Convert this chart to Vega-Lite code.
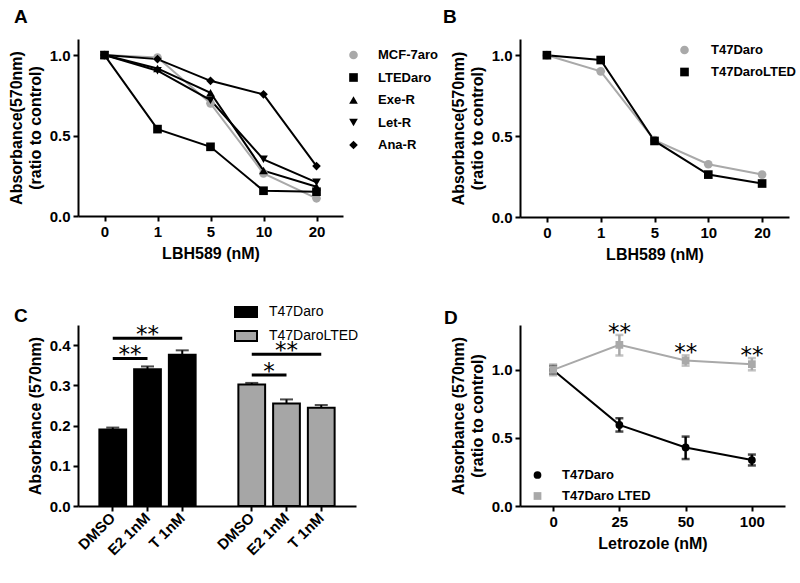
{
  "$schema": "https://vega.github.io/schema/vega-lite/v6.json",
  "padding": {"left": 8, "top": 8, "right": 5, "bottom": 5},
  "background": "white",
  "columns": 2,
  "bounds": "flush",
  "spacing": {"row": 108, "column": 164},
  "resolve": {
    "scale": {"color": "independent", "shape": "independent"},
    "legend": {"color": "independent", "shape": "independent"}
  },
  "config": {
    "font": "Liberation Sans",
    "view": {"stroke": null},
    "axis": {
      "domainColor": "black", "domainWidth": 2, "tickColor": "black", "tickWidth": 2, "tickSize": 5,
      "labelFont": "Liberation Sans", "labelFontSize": 15, "labelFontWeight": "bold", "labelColor": "black", "labelPadding": 3,
      "titleFont": "Liberation Sans", "titleFontSize": 16, "titleFontWeight": "bold", "titleColor": "black",
      "grid": false, "titleLineHeight": 19
    },
    "legend": {"labelFont": "Liberation Sans", "labelFontSize": 13, "labelFontWeight": "bold", "labelColor": "black", "padding": 0, "titlePadding": 0},
    "title": {"font": "Liberation Sans", "fontSize": 19, "fontWeight": "bold", "color": "black", "anchor": "start", "frame": "group"}
  },
  "concat": [
    {
      "width": 265, "height": 177,
      "title": {"text": "A", "dx": -64, "offset": 12},
      "data": {"values": [
        {"conc": "0", "series": "MCF-7aro", "v": 1.0}, {"conc": "1", "series": "MCF-7aro", "v": 0.985}, {"conc": "5", "series": "MCF-7aro", "v": 0.70}, {"conc": "10", "series": "MCF-7aro", "v": 0.265}, {"conc": "20", "series": "MCF-7aro", "v": 0.11},
        {"conc": "0", "series": "LTEDaro", "v": 1.0}, {"conc": "1", "series": "LTEDaro", "v": 0.54}, {"conc": "5", "series": "LTEDaro", "v": 0.43}, {"conc": "10", "series": "LTEDaro", "v": 0.157}, {"conc": "20", "series": "LTEDaro", "v": 0.151},
        {"conc": "0", "series": "Exe-R", "v": 1.0}, {"conc": "1", "series": "Exe-R", "v": 0.917}, {"conc": "5", "series": "Exe-R", "v": 0.766}, {"conc": "10", "series": "Exe-R", "v": 0.282}, {"conc": "20", "series": "Exe-R", "v": 0.182},
        {"conc": "0", "series": "Let-R", "v": 1.0}, {"conc": "1", "series": "Let-R", "v": 0.903}, {"conc": "5", "series": "Let-R", "v": 0.72}, {"conc": "10", "series": "Let-R", "v": 0.352}, {"conc": "20", "series": "Let-R", "v": 0.209},
        {"conc": "0", "series": "Ana-R", "v": 1.0}, {"conc": "1", "series": "Ana-R", "v": 0.975}, {"conc": "5", "series": "Ana-R", "v": 0.84}, {"conc": "10", "series": "Ana-R", "v": 0.756}, {"conc": "20", "series": "Ana-R", "v": 0.31}
      ]},
      "encoding": {
        "x": {"field": "conc", "type": "ordinal", "sort": ["0", "1", "5", "10", "20"], "scale": {"type": "point", "padding": 0.5}, "axis": {"title": "LBH589 (nM)", "labelAngle": 0, "titlePadding": 6}},
        "y": {"field": "v", "type": "quantitative", "scale": {"domain": [0, 1.1]}, "axis": {"values": [0, 0.5, 1], "format": ".1f", "title": ["Absorbance(570nm)", "(ratio to control)"], "titlePadding": 6}}
      },
      "layer": [
        {"mark": {"type": "line", "strokeWidth": 2}, "encoding": {
          "detail": {"field": "series", "type": "nominal"},
          "color": {"condition": {"test": "datum.series == 'MCF-7aro'", "value": "#a9a9a9"}, "value": "#000000"}}},
        {"mark": {"type": "point", "filled": true, "opacity": 1, "size": 75}, "encoding": {
          "color": {"field": "series", "type": "nominal", "scale": {"domain": ["MCF-7aro", "LTEDaro", "Exe-R", "Let-R", "Ana-R"], "range": ["#a9a9a9", "#000000", "#000000", "#000000", "#000000"]},
            "legend": {"title": null, "orient": "none", "legendX": 269, "legendY": 9.5, "symbolSize": 75, "symbolOpacity": 1, "labelOffset": 18, "rowPadding": 7.5}},
          "shape": {"field": "series", "type": "nominal", "scale": {"domain": ["MCF-7aro", "LTEDaro", "Exe-R", "Let-R", "Ana-R"], "range": ["circle", "square", "triangle-up", "triangle-down", "diamond"]},
            "legend": {"title": null, "orient": "none", "legendX": 269, "legendY": 9.5, "symbolSize": 75, "symbolOpacity": 1, "labelOffset": 18, "rowPadding": 7.5}}}}
      ]
    },
    {
      "width": 269, "height": 178,
      "title": {"text": "B", "dx": -77, "offset": 12},
      "data": {"values": [
        {"conc": "0", "series": "T47Daro", "v": 1.0}, {"conc": "1", "series": "T47Daro", "v": 0.90}, {"conc": "5", "series": "T47Daro", "v": 0.475}, {"conc": "10", "series": "T47Daro", "v": 0.326}, {"conc": "20", "series": "T47Daro", "v": 0.262},
        {"conc": "0", "series": "T47DaroLTED", "v": 1.0}, {"conc": "1", "series": "T47DaroLTED", "v": 0.97}, {"conc": "5", "series": "T47DaroLTED", "v": 0.47}, {"conc": "10", "series": "T47DaroLTED", "v": 0.262}, {"conc": "20", "series": "T47DaroLTED", "v": 0.207}
      ]},
      "encoding": {
        "x": {"field": "conc", "type": "ordinal", "sort": ["0", "1", "5", "10", "20"], "scale": {"type": "point", "padding": 0.5}, "axis": {"title": "LBH589 (nM)", "labelAngle": 0, "titlePadding": 6}},
        "y": {"field": "v", "type": "quantitative", "scale": {"domain": [0, 1.1]}, "axis": {"values": [0, 0.5, 1], "format": ".1f", "title": ["Absorbance(570nm)", "(ratio to control)"], "titlePadding": 6}}
      },
      "layer": [
        {"mark": {"type": "line", "strokeWidth": 2}, "encoding": {
          "detail": {"field": "series", "type": "nominal"},
          "color": {"condition": {"test": "datum.series == 'T47Daro'", "value": "#a9a9a9"}, "value": "#000000"}}},
        {"mark": {"type": "point", "filled": true, "opacity": 1, "size": 75}, "encoding": {
          "color": {"field": "series", "type": "nominal", "scale": {"domain": ["T47Daro", "T47DaroLTED"], "range": ["#a9a9a9", "#000000"]},
            "legend": {"title": null, "orient": "none", "legendX": 158, "legendY": 4.5, "symbolSize": 75, "symbolOpacity": 1, "labelOffset": 20, "rowPadding": 7}},
          "shape": {"field": "series", "type": "nominal", "scale": {"domain": ["T47Daro", "T47DaroLTED"], "range": ["circle", "square"]},
            "legend": {"title": null, "orient": "none", "legendX": 158, "legendY": 4.5, "symbolSize": 75, "symbolOpacity": 1, "labelOffset": 20, "rowPadding": 7}}}}
      ]
    },
    {
      "width": 278, "height": 181,
      "title": {"text": "C", "dx": -64, "offset": -21},
      "layer": [
        {
          "data": {"values": [
            {"bar": "T47Daro|DMSO", "line": "T47Daro", "v": 0.190, "hi": 0.195},
            {"bar": "T47Daro|E2 1nM", "line": "T47Daro", "v": 0.340, "hi": 0.347},
            {"bar": "T47Daro|T 1nM", "line": "T47Daro", "v": 0.376, "hi": 0.387},
            {"bar": "T47DaroLTED|DMSO", "line": "T47DaroLTED", "v": 0.302, "hi": 0.306},
            {"bar": "T47DaroLTED|E2 1nM", "line": "T47DaroLTED", "v": 0.255, "hi": 0.265},
            {"bar": "T47DaroLTED|T 1nM", "line": "T47DaroLTED", "v": 0.244, "hi": 0.251}
          ]},
          "encoding": {
            "x": {"field": "bar", "type": "nominal", "scale": {"domain": ["T47Daro|DMSO", "T47Daro|E2 1nM", "T47Daro|T 1nM", "gap", "T47DaroLTED|DMSO", "T47DaroLTED|E2 1nM", "T47DaroLTED|T 1nM"], "paddingInner": 0.23, "paddingOuter": 0.615},
              "axis": {"values": ["T47Daro|DMSO", "T47Daro|E2 1nM", "T47Daro|T 1nM", "T47DaroLTED|DMSO", "T47DaroLTED|E2 1nM", "T47DaroLTED|T 1nM"], "labelExpr": "split(datum.value, '|')[1]", "labelAngle": -45, "labelAlign": "right", "labelBaseline": "middle", "labelPadding": 4, "title": null}},
            "y": {"field": "v", "type": "quantitative", "scale": {"domain": [0, 0.45]}, "axis": {"values": [0, 0.1, 0.2, 0.3, 0.4], "format": ".1f", "title": "Absorbance (570nm)", "titlePadding": 6}}
          },
          "layer": [
            {"mark": {"type": "rule", "color": "black", "strokeWidth": 2}, "encoding": {"y2": {"field": "hi"}}},
            {"mark": {"type": "tick", "color": "black", "thickness": 2, "size": 13}, "encoding": {"y": {"field": "hi", "type": "quantitative"}}},
            {"mark": {"type": "bar", "stroke": "black", "strokeWidth": 2}, "encoding": {
              "color": {"field": "line", "type": "nominal", "scale": {"domain": ["T47Daro", "T47DaroLTED"], "range": ["#000000", "#a6a6a6"]},
                "legend": {"title": null, "orient": "none", "legendX": 161, "legendY": -20, "symbolType": "M-2,-0.9H2V0.9H-2Z", "symbolSize": 121, "symbolStrokeColor": "black", "symbolStrokeWidth": 2, "labelOffset": 16, "rowPadding": 6, "labelFontSize": 14, "labelFontWeight": "normal"}}}}
          ]
        },
        {
          "data": {"values": [
            {"from": "T47Daro|DMSO", "to": "T47Daro|E2 1nM", "mid": "T47Daro|E2 1nM", "y": 0.367, "label": "**", "kind": "short"},
            {"from": "T47Daro|DMSO", "to": "T47Daro|T 1nM", "mid": "T47Daro|E2 1nM", "y": 0.417, "label": "**", "kind": "long"},
            {"from": "T47DaroLTED|DMSO", "to": "T47DaroLTED|E2 1nM", "mid": "T47DaroLTED|E2 1nM", "y": 0.326, "label": "*", "kind": "short"},
            {"from": "T47DaroLTED|DMSO", "to": "T47DaroLTED|T 1nM", "mid": "T47DaroLTED|E2 1nM", "y": 0.377, "label": "**", "kind": "long"}
          ]},
          "layer": [
            {"mark": {"type": "rule", "color": "black", "strokeWidth": 3}, "encoding": {"x": {"field": "from", "type": "nominal"}, "x2": {"field": "to"}, "y": {"field": "y", "type": "quantitative"}}},
            {"transform": [{"filter": "datum.kind == 'long'"}], "mark": {"type": "text", "font": "DejaVu Sans", "fontSize": 23, "baseline": "alphabetic", "dy": 4, "color": "black"}, "encoding": {"x": {"field": "mid", "type": "nominal"}, "y": {"field": "y", "type": "quantitative"}, "text": {"field": "label"}}},
            {"transform": [{"filter": "datum.kind == 'short'"}], "mark": {"type": "text", "font": "DejaVu Sans", "fontSize": 23, "baseline": "alphabetic", "dy": 4, "color": "black"}, "encoding": {"x": {"field": "mid", "type": "nominal", "bandPosition": -0.15}, "y": {"field": "y", "type": "quantitative"}, "text": {"field": "label"}}}
          ]
        }
      ]
    },
    {
      "width": 265, "height": 181,
      "title": {"text": "D", "dx": -76, "offset": -6},
      "data": {"values": [
        {"conc": "0", "series": "T47Daro", "v": 1.0, "lo": 0.97, "hi": 1.03, "star": ""},
        {"conc": "25", "series": "T47Daro", "v": 0.596, "lo": 0.547, "hi": 0.645, "star": ""},
        {"conc": "50", "series": "T47Daro", "v": 0.43, "lo": 0.345, "hi": 0.51, "star": ""},
        {"conc": "100", "series": "T47Daro", "v": 0.338, "lo": 0.298, "hi": 0.378, "star": ""},
        {"conc": "0", "series": "T47Daro LTED", "v": 1.0, "lo": 0.96, "hi": 1.04, "star": ""},
        {"conc": "25", "series": "T47Daro LTED", "v": 1.184, "lo": 1.106, "hi": 1.257, "star": "**"},
        {"conc": "50", "series": "T47Daro LTED", "v": 1.069, "lo": 1.031, "hi": 1.107, "star": "**"},
        {"conc": "100", "series": "T47Daro LTED", "v": 1.042, "lo": 0.997, "hi": 1.087, "star": "**"}
      ]},
      "encoding": {
        "x": {"field": "conc", "type": "ordinal", "sort": ["0", "25", "50", "100"], "scale": {"type": "point", "padding": 0.5}, "axis": {"title": "Letrozole (nM)", "labelAngle": 0, "titlePadding": 6}},
        "y": {"field": "v", "type": "quantitative", "scale": {"domain": [0, 1.33]}, "axis": {"values": [0, 0.5, 1], "format": ".1f", "title": ["Absorbance (570nm)", "(ratio to control)"], "titlePadding": 6}}
      },
      "layer": [
        {"mark": {"type": "line", "strokeWidth": 2}, "encoding": {
          "detail": {"field": "series", "type": "nominal"},
          "color": {"condition": {"test": "datum.series == 'T47Daro'", "value": "#000000"}, "value": "#a9a9a9"}}},
        {"mark": {"type": "rule", "strokeWidth": 2.5}, "encoding": {"y": {"field": "lo", "type": "quantitative"}, "y2": {"field": "hi"},
          "color": {"condition": {"test": "datum.series == 'T47Daro'", "value": "#000000"}, "value": "#a9a9a9"}}},
        {"mark": {"type": "tick", "thickness": 2.5, "size": 8}, "encoding": {"y": {"field": "lo", "type": "quantitative"},
          "color": {"condition": {"test": "datum.series == 'T47Daro'", "value": "#000000"}, "value": "#a9a9a9"}}},
        {"mark": {"type": "tick", "thickness": 2.5, "size": 8}, "encoding": {"y": {"field": "hi", "type": "quantitative"},
          "color": {"condition": {"test": "datum.series == 'T47Daro'", "value": "#000000"}, "value": "#a9a9a9"}}},
        {"mark": {"type": "text", "font": "DejaVu Sans", "fontSize": 23, "baseline": "alphabetic", "dy": 5, "color": "black"}, "encoding": {"y": {"field": "hi", "type": "quantitative"}, "text": {"field": "star"}}},
        {"mark": {"type": "point", "filled": true, "opacity": 1, "size": 60}, "encoding": {
          "color": {"field": "series", "type": "nominal", "scale": {"domain": ["T47Daro", "T47Daro LTED"], "range": ["#000000", "#a9a9a9"]},
            "legend": {"title": null, "orient": "none", "legendX": 11, "legendY": 143.5, "symbolSize": 60, "symbolOpacity": 1, "labelOffset": 18, "rowPadding": 6}},
          "shape": {"field": "series", "type": "nominal", "scale": {"domain": ["T47Daro", "T47Daro LTED"], "range": ["circle", "square"]},
            "legend": {"title": null, "orient": "none", "legendX": 11, "legendY": 143.5, "symbolSize": 60, "symbolOpacity": 1, "labelOffset": 18, "rowPadding": 6}}}}
      ]
    }
  ]
}
